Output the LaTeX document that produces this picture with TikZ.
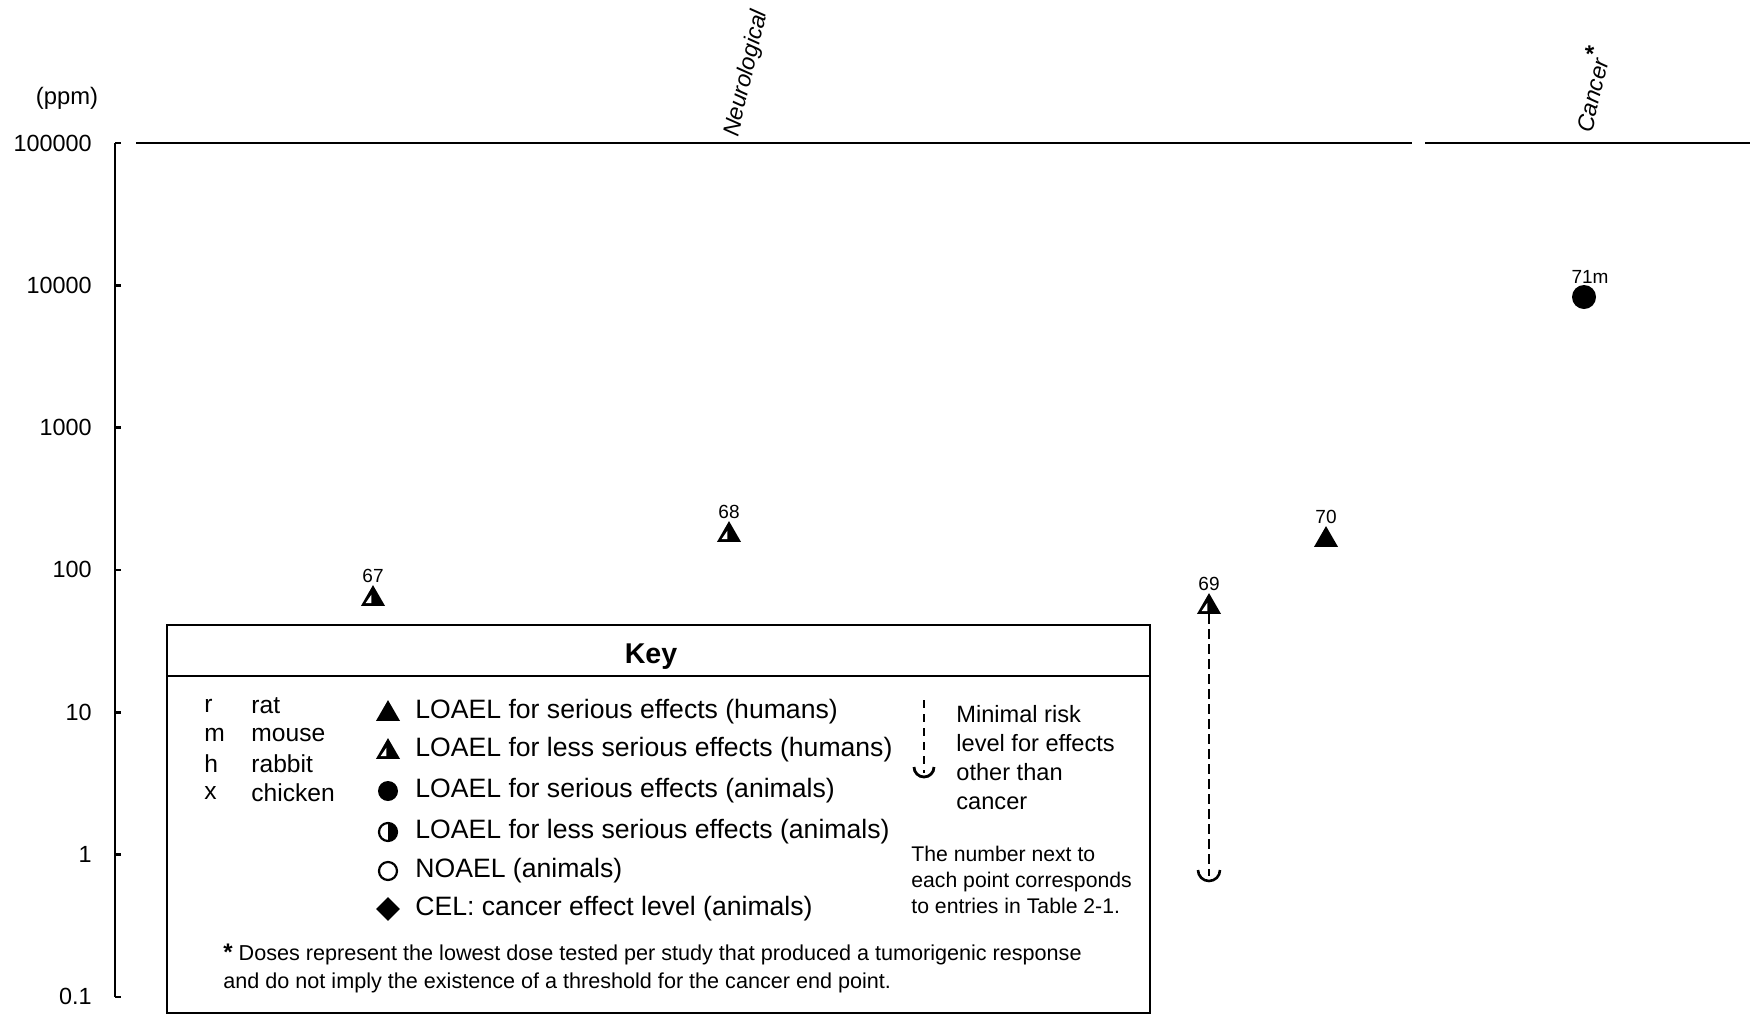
\documentclass[tikz,border=0pt]{standalone}
\usepackage{fontspec}
\setmainfont{Liberation Sans}
\usetikzlibrary{shapes,calc,positioning}

\begin{document}
\begin{tikzpicture}[x=0.5pt,y=-0.5pt]
  \tikzset{ ax/.style={line width=1.3pt},
    tri/.style={regular polygon,regular polygon sides=3,fill=black,inner sep=0pt,minimum size=13.9pt},
    halftri/.style={tri,path picture={\fill[white] ($(path picture bounding box.south)+(-3.7pt,1.4pt)$) -- ++(2.9pt,0pt) -- ++(0pt,4.2pt) -- cycle;}},
    dot/.style={circle,fill=black,inner sep=0pt,minimum size=12pt},
    kdot/.style={circle,fill=black,inner sep=0pt,minimum size=10pt},
    halfdot/.style={circle,draw,line width=1.1pt,inner sep=0pt,minimum size=9pt,path picture={\fill (path picture bounding box.north) rectangle (path picture bounding box.south east);}},
    opendot/.style={circle,draw,line width=1.1pt,inner sep=0pt,minimum size=9pt},
    dia/.style={diamond,fill=black,inner sep=0pt,minimum size=12pt},
    num/.style={font=\fontsize{9.5}{10}\selectfont,inner sep=0.5pt},
    ktxt/.style={font=\fontsize{13.3}{15}\selectfont,inner sep=0pt},
    stxt/.style={font=\fontsize{12.3}{14}\selectfont,inner sep=0pt},
    endpt/.style={rotate=77,anchor=base west,inner sep=0pt,font=\itshape\fontsize{11.6}{14}\selectfont},
    mrl/.style={dash pattern=on 5pt off 2.5pt,line width=1.4pt},
  }
  \useasboundingbox (0,0) rectangle (1750,1019);

  % axis and scale
  \node[font=\fontsize{11.9}{14}\selectfont] (ppm) at (67,98) {(ppm)};
  \foreach \v [count=\i from 0] in {100000,10000,1000,100,10,1,0.1} {
    \node[anchor=east,inner sep=0pt,font=\fontsize{11.7}{14}\selectfont] (tick\i) at (92,{143+142.3*\i}) {\v};
    \draw[ax] (115,{143+142.3*\i}) -- ++(6,0);
  }
  \draw[ax] (115,143) -- (115,997);
  \draw[line width=1.4pt] (136,143) -- (1412,143) (1425,143) -- (1750,143);

  % end points
  \node[endpt] (neuro) at (738,138) {Neurological};
  \node[endpt] (canc) at (1592,134) {Cancer\textsuperscript{\bfseries\large *}};

  % data points
  \node[halftri,label={[num]above:67}] (67) at (373,599) {};
  \node[halftri,label={[num]above:68}] (68) at (729,535) {};
  \node[halftri,label={[num]above:69}] (69) at (1209,607) {};
  \node[tri,label={[num]above:70}] (70) at (1326,540) {};
  \node[dot,label={[num,xshift=3pt]above:71m}] (71m) at (1584,297) {};

  \coordinate (cup69) at (1209,870);
  \draw[mrl] (69.south) -- ($(cup69)+(0,6)$);
  \draw[line width=1.3pt] ($(cup69)+(-11,0)$) arc[start angle=180,end angle=0,radius=11];

  % the key
  \coordinate (kNW) at (167,625);
  \coordinate (kSE) at (1150,1013);
  \draw[line width=1.2pt] (kNW) rectangle (kSE);
  \draw[line width=1.2pt] (167,676) -- (1150,676);
  \node[font=\bfseries\fontsize{14.3}{16}\selectfont] (keyt) at (651,657) {Key};

  \foreach \a/\b [count=\i from 0] in {r/rat,m/mouse,h/rabbit,x/chicken} {
    \node[stxt,anchor=west] (sa\i) at (204,{706+29*\i}) {\a};
    \node[stxt,anchor=west] (sb\i) at (251,{706+29*\i}) {\b};
  }

  \node[tri] (k1) at (388,714) {};
  \node[halftri] (k2) at (388,752) {};
  \node[kdot] (k3) at (388,791) {};
  \node[halfdot] (k4) at (388,832) {};
  \node[opendot] (k5) at (388,871) {};
  \node[dia] (k6) at (388,909) {};
  \node[ktxt,anchor=west] (l1) at (415,712) {LOAEL for serious effects (humans)};
  \node[ktxt,anchor=west] (l2) at (415,750) {LOAEL for less serious effects (humans)};
  \node[ktxt,anchor=west] (l3) at (415,791) {LOAEL for serious effects (animals)};
  \node[ktxt,anchor=west] (l4) at (415,832) {LOAEL for less serious effects (animals)};
  \node[ktxt,anchor=west] (l5) at (415,871) {NOAEL (animals)};
  \node[ktxt,anchor=west] (l6) at (415,909) {CEL: cancer effect level (animals)};

  \coordinate (ktop) at (924,700);
  \coordinate (kcup) at (924,767);
  \draw[mrl,dash pattern=on 4pt off 3pt] (ktop) -- ($(kcup)+(0,6)$);
  \draw[line width=1.4pt] ($(kcup)+(-10,0)$) arc[start angle=180,end angle=0,radius=10];
  \node[anchor=west,align=left,inner sep=0pt,font=\fontsize{11.8}{14.5}\selectfont] (mrltxt) at (956,758)
    {Minimal risk\\level for effects\\other than\\cancer};
  \node[anchor=west,align=left,inner sep=0pt,font=\fontsize{10.6}{13}\selectfont] (numtxt) at (911,880)
    {The number next to\\each point corresponds\\to entries in Table 2-1.};
  \node[anchor=west,align=left,inner sep=0pt,font=\fontsize{10.8}{14}\selectfont] (foot) at (223,968)
    {{\bfseries\large *} Doses represent the lowest dose tested per study that produced a tumorigenic response\\and do not imply the existence of a threshold for the cancer end point.};
\end{tikzpicture}
\end{document}
